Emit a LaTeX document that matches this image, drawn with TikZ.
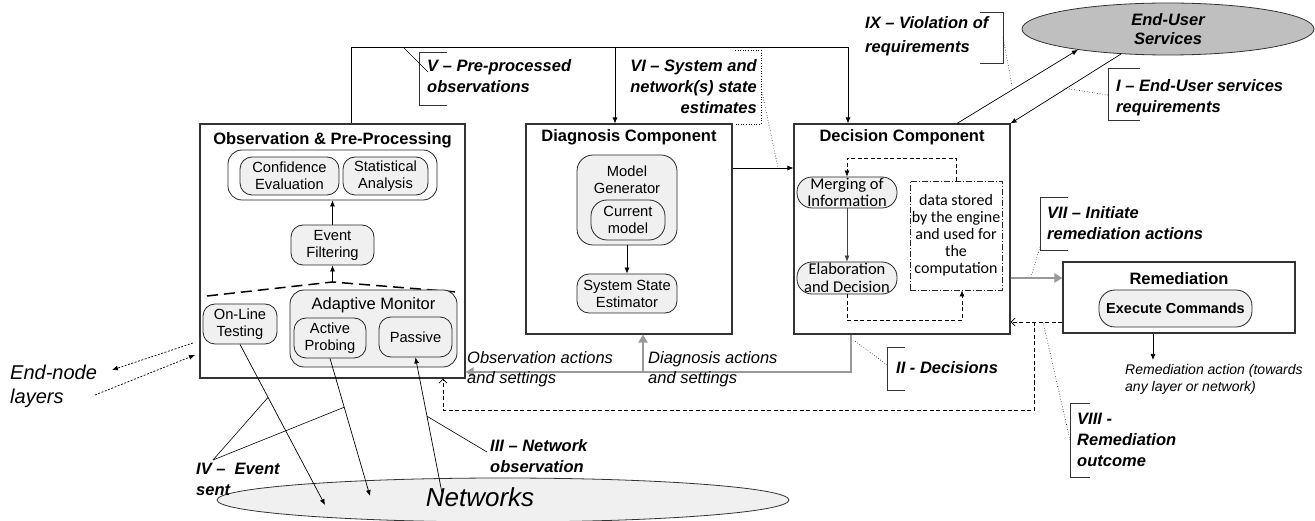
\documentclass[tikz,border=0pt]{standalone}
\usepackage{fontspec}
\setmainfont{Liberation Sans}
\newfontfamily\calfont{Carlito}
\usetikzlibrary{arrows.meta,shapes.geometric,calc}
\newcommand\fsz[2]{\fontsize{#1}{#2}\selectfont}
\begin{document}
\begin{tikzpicture}[x=1pt,y=-1pt,
  bigbox/.style={draw=black!80,line width=1.1pt,inner sep=0pt,fill=white},
  ttl/.style={font=\bfseries\fsz{16.5}{19},inner sep=0pt},
  inbox/.style={draw=black!85,line width=0.8pt,rounded corners=12pt,fill=black!6,inner sep=0pt,align=center,font=\fsz{14.7}{17}},
  lab/.style={font=\bfseries\itshape\fsz{16.5}{21},align=left,inner sep=0pt},
  itx/.style={font=\itshape\fsz{16.5}{20},align=left,inner sep=0pt},
  arr/.style={-{Latex[length=6pt,width=5pt]},line width=0.7pt},
  garr/.style={draw=black!40,line width=2.5pt,-{Triangle[length=8pt,width=9pt]}},
  brk/.style={draw=black!80,line width=0.7pt},
  dotl/.style={dotted,line width=0.6pt},
  dsh/.style={dash pattern=on 4pt off 2.5pt,line width=0.7pt},
  fdash/.style={dash pattern=on 2pt off 1.5pt,line width=0.6pt},
  barb/.style={-{Straight Barb[length=4pt,width=8pt]}}]
\useasboundingbox (0,0) rectangle (1315,521);

% ---------- ellipses ----------
\node[ellipse,draw=black!80,fill=black!6,line width=0.8pt,minimum width=572pt,minimum height=44pt,inner sep=0pt] (net) at (503,500) {};
\node[font=\itshape\fsz{26}{28},inner sep=0pt] (nett) at (480,497) {Networks};
\node[ellipse,draw=black!80,fill=black!25,line width=0.8pt,minimum width=292pt,minimum height=52pt,inner sep=0pt,align=center,font=\bfseries\itshape\fsz{16.5}{19}] (eus) at (1168,29) {End-User\\Services};

% ---------- observation ----------
\node[bigbox,minimum width=265pt,minimum height=254pt] (obs) at (332.5,251) {};
\node[ttl] (obst) at (332.5,140) {Observation \& Pre-Processing};
\node[draw=black!85,line width=0.8pt,rounded corners=14pt,minimum width=209pt,minimum height=50pt,inner sep=0pt] (cont) at (332.5,175) {};
\node[inbox,minimum width=99pt,minimum height=38pt] (conf) at (289.5,176) {Confidence\\Evaluation};
\node[inbox,minimum width=85pt,minimum height=38pt] (stat) at (385.5,176) {Statistical\\Analysis};
\node[inbox,minimum width=83pt,minimum height=40pt] (evf) at (332.5,245) {Event\\Filtering};
\coordinate (apex) at (332.5,282);
\draw[line width=1.5pt,dash pattern=on 11pt off 6pt] (207,296) -- (apex) -- (457,292);
\draw[arr] (apex) -- (evf.south);
\draw[arr] (evf.north) -- (cont.south);
\node[inbox,minimum width=74pt,minimum height=40pt] (onl) at (240,324) {On-Line\\Testing};
\node[inbox,minimum width=167pt,minimum height=77pt,rounded corners=14pt] (adm) at (373.5,328.5) {};
\node[font=\fsz{16.5}{19},inner sep=0pt] (admt) at (373.5,305) {Adaptive Monitor};
\node[inbox,minimum width=72pt,minimum height=40pt] (act) at (330,338) {Active\\Probing};
\node[inbox,minimum width=73pt,minimum height=40pt] (pas) at (415.5,337) {Passive};

% ---------- diagnosis ----------
\node[bigbox,minimum width=206pt,minimum height=210pt] (diag) at (629,229) {};
\node[ttl] (diagt) at (629,137) {Diagnosis Component};
\node[inbox,minimum width=100pt,minimum height=90pt,rounded corners=16pt] (mg) at (627,200) {};
\node[font=\fsz{14.7}{17},align=center,inner sep=0pt] (mgt) at (627,180) {Model\\Generator};
\node[inbox,minimum width=74pt,minimum height=40pt,rounded corners=16pt] (cm) at (628,220) {Current\\model};
\node[inbox,minimum width=100pt,minimum height=39pt] (sse) at (627,293.5) {System State\\Estimator};
\draw[arr] (mg.south) -- (sse.north);

% ---------- decision ----------
\node[bigbox,minimum width=216pt,minimum height=210pt] (dec) at (902,229) {};
\node[ttl] (dect) at (902,137) {Decision Component};
\node[inbox,font=\calfont\fsz{16.5}{17.5},rounded corners=15pt,minimum width=100pt,minimum height=31pt] (merg) at (847,192.5) {Merging of\\Information};
\node[inbox,font=\calfont\fsz{16.5}{17.5},rounded corners=15pt,minimum width=100pt,minimum height=32pt] (elab) at (847,278) {Elaboration\\and Decision};
\node[draw=black!85,dash pattern=on 6pt off 2pt on 1pt off 2pt,line width=0.7pt,minimum width=92pt,minimum height=109pt,align=center,font=\calfont\fsz{16}{17},inner sep=0pt] (data) at (956,235.5) {data stored\\by the engine\\and used for\\the\\computation};
\draw[arr,draw=black!75] (merg.south) -- (elab.north);
\coordinate (d1) at (956,158); \coordinate (d2) at (847,158); \coordinate (d3) at (962,320);
\draw[dsh,arr] (data.north -| d1) -- (d1) -- (d2) -- (merg.north);
\draw[dsh,arr] (elab.south) -- (elab.south |- d3) -- (d3) -- (data.south -| d3);

% ---------- remediation ----------
\node[bigbox,minimum width=232pt,minimum height=71pt] (rem) at (1179,297.5) {};
\node[ttl] (remt) at (1179,279) {Remediation};
\node[inbox,font=\bfseries\fsz{14.5}{17},minimum width=153pt,minimum height=37pt,rounded corners=16pt] (exe) at (1175.5,308.5) {Execute Commands};

% ---------- top connectors ----------
\coordinate (t1) at (351,47); \coordinate (t2) at (848,47); \coordinate (t3) at (615,47);
\draw[arr] (obs.north -| t1) -- (t1) -- (t2) -- (dec.north -| t2);
\draw[arr] (t3) -- (diag.north -| t3);
\coordinate (c168) at (0,168);
\draw[arr] (diag.east |- c168) -- (dec.west |- c168);

% V label
\node[lab,anchor=north west] (lv) at (427,59) {V – Pre-processed\\observations};
\draw[brk] (447,52) -- (419,52) -- (419,105) -- (447,105);
\draw[line width=0.6pt] (403,47) -- (428,72);
% VI label
\node[lab,anchor=north east,align=right] (lvi) at (757,59) {VI – System and\\network(s) state\\estimates};
\draw[dotl] (735,50) -- (761,50) -- (761,124) -- (735,124);
\draw[dotl] (761,87) -- (778,168);
% IX label
\node[lab,anchor=north west,font=\bfseries\itshape\fsz{16.5}{24}] (lix) at (865,16) {IX – Violation of\\requirements};
\draw[brk] (980,12) -- (1003,12) -- (1003,63) -- (980,63);
\coordinate (c957) at (957,0);
\draw[arr] (dec.north -| c957) -- (eus.193);
\draw[arr] (eus.208) -- (dec.north east);
\draw[dotl] (1003,37) -- (1012,86);
% I label
\node[lab,anchor=north west] (li) at (1116,79) {I – End-User services\\requirements};
\draw[brk] (1140,68) -- (1108,68) -- (1108,120) -- (1140,120);
\draw[dotl] (1108,95) -- (1063,88);

% VII
\coordinate (c278) at (0,278);
\draw[garr] (dec.east |- c278) -- (rem.west |- c278);
\node[lab,anchor=north west] (lvii) at (1047,206) {VII – Initiate\\remediation actions};
\draw[brk] (1068,197) -- (1040,197) -- (1040,250) -- (1068,250);
\draw[dotl] (1040,247) -- (1031,277);

% VIII
\coordinate (c322) at (0,322);
\draw[dsh,barb] (rem.west |- c322) -- (dec.east |- c322);
\coordinate (v1) at (1034,322); \coordinate (v2) at (1034,410); \coordinate (v3) at (443,410);
\draw[dsh,barb] (v1) -- (v2) -- (v3) -- (obs.south -| v3);
\node[lab,anchor=north west] (lviii) at (1077,413) {VIII -\\Remediation\\outcome};
\draw[brk] (1090,403) -- (1070,403) -- (1070,477) -- (1090,477);
\draw[dotl] (1070,440) -- (1043,322);

% remediation action
\coordinate (ra) at (1153,360);
\draw[arr] (rem.south -| ra) -- (ra);
\node[font=\itshape\fsz{14}{17},align=left,inner sep=0pt,anchor=north west] (rat) at (1125,364) {Remediation action (towards\\any layer or network)};

% gray actions
\coordinate (g1) at (851,372); \coordinate (g2) at (643,372);
\draw[garr] (dec.south -| g1) -- (g1) -- (obs.east |- g1);
\draw[garr] (g2) -- (diag.south -| g2);
\node[itx,anchor=north west] (oas) at (467,351) {Observation actions\\and settings};
\node[itx,anchor=north west] (das) at (648,351) {Diagnosis actions\\and settings};
% II
\node[lab,anchor=west] (lii) at (896,368) {II - Decisions};
\draw[brk] (905,347) -- (887,347) -- (887,390) -- (905,390);
\draw[dotl] (887,365) -- (855,341);

% end-node layers
\node[font=\itshape\fsz{20}{24},align=left,anchor=north west,inner sep=0pt] (enl) at (10,365) {End-node\\layers};
\coordinate (en1) at (193,343); \coordinate (en2) at (112,370);
\coordinate (en3) at (95,395); \coordinate (en4) at (195,355);
\draw[fdash,arr] (en1) -- (en2);
\draw[fdash,arr] (en3) -- (en4);

% network arrows
\coordinate (n1) at (325,505); \coordinate (n2) at (370,496); \coordinate (n3) at (442,493);
\draw[arr] (onl.south) -- (n1);
\draw[arr] (act.south) -- (n2);
\draw[arr] (n3) -- (pas.south);
% IV
\node[lab,anchor=north west] (liv) at (196,463) {IV –~ Event\\sent};
\coordinate (iv0) at (213,460);
\draw[line width=0.6pt] (iv0) -- ($(onl.south)!0.33!(n1)$);
\draw[line width=0.6pt] (iv0) -- ($(act.south)!0.355!(n2)$);
% III
\node[lab,anchor=north west] (liii) at (490,439) {III – Network\\observation};
\coordinate (iii0) at (487,452);
\draw[line width=0.6pt] (iii0) -- ($(n3)!0.566!(pas.south)$);
\end{tikzpicture}
\end{document}
